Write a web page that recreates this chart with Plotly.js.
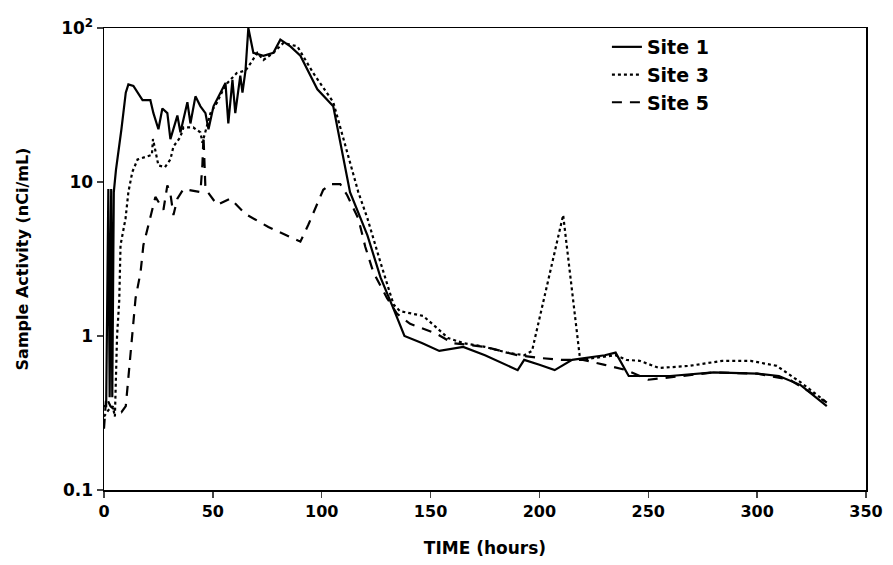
<!DOCTYPE html>
<html>
<head>
<meta charset="utf-8">
<script src="https://cdn.plot.ly/plotly-3.0.1.min.js"></script>
<style>html,body{margin:0;padding:0;background:#fff;}#chart{width:893px;height:565px;}</style>
</head>
<body>
<div id="chart"></div>
<script>
// Site 1 (solid)
const t1 = [0, 1, 2, 2.6, 3.3, 3.8, 4.5, 5.5, 8, 10, 11.2, 13.5, 17.7, 21.3, 22.7, 25, 26.8, 29.1, 30.5, 33.7, 35.1, 38.3, 39.7, 42, 44.3, 46.6, 48, 50.3, 53.5, 55.8, 57.1, 59, 60.3, 62.6, 63.6, 65, 66.3, 68.6, 73.2, 77.8, 81, 85.6, 90.2, 98, 105.3, 113, 121, 127, 133, 138, 146, 154, 165, 175, 190, 193, 200, 207, 215, 230, 235, 241, 250, 260, 280, 300, 310, 320, 332];
const v1 = [0.35, 0.35, 9, 0.4, 9, 0.4, 8.6, 12, 22, 38, 43, 42, 34, 34, 28, 22, 30, 28, 19, 27, 21, 33, 24, 36, 31, 28, 22, 31, 38, 44, 24, 46, 28, 49, 38, 53, 100, 69, 66, 69, 84, 76, 66, 40, 31, 8.6, 4.5, 2.4, 1.5, 1.0, 0.9, 0.8, 0.85, 0.75, 0.6, 0.7, 0.65, 0.6, 0.7, 0.75, 0.78, 0.55, 0.55, 0.55, 0.58, 0.57, 0.55, 0.48, 0.35];
// Site 3 (dotted)
const t3 = [0, 2, 4, 5, 6, 7, 7.6, 9.9, 11.2, 13, 15.4, 19, 22, 22.5, 25, 28, 30.5, 31.9, 35, 36.5, 41, 44.3, 45.2, 48.9, 52, 54.8, 56.7, 61, 65, 67.3, 70.4, 73.2, 77.8, 82.4, 88.8, 96.1, 105.3, 116.8, 121, 127, 133, 136, 146.6, 154.4, 158, 165, 175, 185, 193, 196.6, 210.9, 218.7, 225, 235, 240, 246, 255, 269, 284, 297, 309, 312, 320, 332];
const v3 = [0.3, 0.33, 0.35, 0.3, 1.0, 1.7, 3.9, 5.8, 8.6, 11.6, 14, 14.5, 15, 19, 12.8, 12.5, 14, 17, 19.5, 22.6, 22.6, 21, 18, 28, 33, 40, 44, 51, 53, 59, 69, 62, 69, 80, 76, 51, 33, 8.6, 5.8, 3.0, 1.6, 1.45, 1.35, 1.08, 0.97, 0.9, 0.85, 0.78, 0.75, 0.8, 6.1, 0.7, 0.72, 0.75, 0.7, 0.69, 0.62, 0.64, 0.69, 0.69, 0.64, 0.6, 0.5, 0.37];
// Site 5 (dashed)
const t5 = [0, 1, 3, 5, 8, 10, 11, 12.5, 13.5, 14.5, 16.8, 18.1, 21.3, 23.6, 25.9, 27.3, 29.1, 30.5, 31.9, 33.7, 36.5, 44.3, 45.2, 45.7, 46.6, 52, 58, 65, 75.5, 87.9, 90.2, 93.9, 100.7, 104, 108.5, 111.7, 116.8, 120, 123.7, 130, 134.7, 140.6, 153, 160, 165, 175, 190, 200, 210, 220, 230, 240, 250, 265, 280, 300, 315, 332];
const v5 = [0.25, 0.4, 0.35, 0.33, 0.32, 0.35, 0.5, 0.84, 1.2, 1.76, 2.6, 3.9, 5.9, 8, 7.1, 6.6, 9.5, 8.4, 6.1, 7.8, 9.0, 8.6, 13, 20, 9.0, 7.1, 7.8, 6.2, 5.1, 4.2, 4.1, 5.3, 8.9, 9.7, 9.7, 8.2, 5.8, 3.8, 2.6, 1.76, 1.39, 1.2, 1.03, 0.9, 0.88, 0.85, 0.75, 0.72, 0.7, 0.7, 0.65, 0.6, 0.52, 0.55, 0.58, 0.57, 0.52, 0.37];

const xTicks = [0, 50, 100, 150, 200, 250, 300, 350];
const yTickVals = [0.1, 1, 10, 100];
const yTickText = ['0.1', '1', '10', '10<sup>2</sup>'];
const seriesNames = ['Site 1', 'Site 3', 'Site 5'];

const FONT = 'DejaVu Sans, Arial, sans-serif';
const traces = [
  {x: t1, y: v1, name: seriesNames[0], mode: 'lines', line: {color: '#000', width: 2.2, dash: 'solid'}},
  {x: t3, y: v3, name: seriesNames[1], mode: 'lines', line: {color: '#000', width: 2.2, dash: 'dot'}},
  {x: t5, y: v5, name: seriesNames[2], mode: 'lines', line: {color: '#000', width: 2.2, dash: '10px,8px'}}
];

const layout = {
  width: 893, height: 565,
  margin: {l: 104, r: 27, t: 28, b: 75},
  paper_bgcolor: '#fff', plot_bgcolor: '#fff',
  showlegend: true,
  legend: {x: 0.66, y: 1.0, xanchor: 'left', yanchor: 'top', bgcolor: 'rgba(0,0,0,0)',
           font: {family: FONT, size: 19, color: '#000', weight: 'bold'}, tracegroupgap: 0},
  xaxis: {
    range: [0, 350], tickvals: xTicks, ticks: 'outside', ticklen: 6, tickwidth: 1.5,
    showgrid: false, zeroline: false, showline: true, linecolor: '#000', linewidth: 1.5, mirror: true,
    tickfont: {family: FONT, size: 16, color: '#000', weight: 'bold'},
    title: {text: 'TIME (hours)', font: {family: FONT, size: 17, color: '#000', weight: 'bold'}, standoff: 22}
  },
  yaxis: {
    type: 'log', range: [-1, 2], tickvals: yTickVals, ticktext: yTickText,
    ticks: 'outside', ticklen: 6, tickwidth: 1.5,
    showgrid: false, zeroline: false, showline: true, linecolor: '#000', linewidth: 1.5, mirror: true,
    tickfont: {family: FONT, size: 17, color: '#000', weight: 'bold'},
    title: {text: 'Sample Activity (nCi/mL)', font: {family: FONT, size: 16, color: '#000', weight: 'bold'}, standoff: 28}
  }
};

Plotly.newPlot('chart', traces, layout, {displayModeBar: false, staticPlot: true});
</script>
</body>
</html>
